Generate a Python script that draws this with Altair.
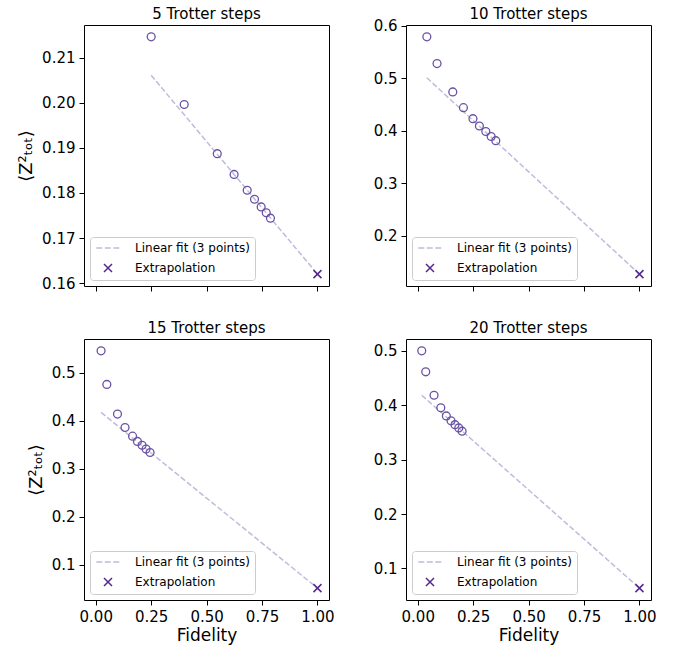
import altair as alt
import pandas as pd

# ---------------- data ----------------
titles = ["5 Trotter steps", "10 Trotter steps", "15 Trotter steps", "20 Trotter steps"]

fid_5 = [0.250, 0.399, 0.548, 0.624, 0.683, 0.716, 0.746, 0.769, 0.788]
z_5 = [0.2146, 0.1996, 0.1887, 0.1841, 0.1806, 0.1786, 0.1769, 0.1756, 0.1744]

fid_10 = [0.041, 0.087, 0.158, 0.206, 0.249, 0.278, 0.307, 0.331, 0.352]
z_10 = [0.579, 0.528, 0.474, 0.444, 0.423, 0.409, 0.3985, 0.389, 0.381]

fid_15 = [0.024, 0.050, 0.098, 0.132, 0.166, 0.188, 0.209, 0.227, 0.245]
z_15 = [0.5458, 0.4758, 0.414, 0.386, 0.368, 0.357, 0.349, 0.341, 0.334]

fid_20 = [0.018, 0.036, 0.0735, 0.104, 0.129, 0.150, 0.168, 0.185, 0.200]
z_20 = [0.4995, 0.461, 0.418, 0.395, 0.380, 0.371, 0.364, 0.358, 0.352]

# linear fit value at the lowest fidelity, and extrapolated value at fidelity 1
fit_start = [0.2061, 0.501, 0.4175, 0.418]
extrap = [0.162, 0.1265, 0.0512, 0.0639]

y_ticks = [
    [0.16, 0.17, 0.18, 0.19, 0.20, 0.21],
    [0.2, 0.3, 0.4, 0.5, 0.6],
    [0.1, 0.2, 0.3, 0.4, 0.5],
    [0.1, 0.2, 0.3, 0.4, 0.5],
]
x_ticks = [0.0, 0.25, 0.5, 0.75, 1.0]
legend_labels = ["Linear fit (3 points)", "Extrapolation"]

# ---------------- styling ----------------
FONT = "DejaVu Sans"
C_PTS = "#6a51a3"
C_FIT = "#bcbddc"
C_EXT = "#54278f"
DASH_PATH = "M-2.34,0L-1.14,0M-0.64,0L0.56,0M1.06,0L2.26,0"
X_PATH = "M-0.8,-0.8L0.8,0.8M-0.8,0.8L0.8,-0.8"
X_DOMAIN = [-0.053, 1.052]
W, H = 245, 261
YLABEL = "⟨Z²ₜₒₜ⟩"
TITLE_DY = [0, 6.5, 0, 0]  # compensates the top tick label that reaches above panel 2

series = [(fid_5, z_5), (fid_10, z_10), (fid_15, z_15), (fid_20, z_20)]


def y_domain(z, e):
    lo, hi = min(min(z), e), max(max(z), e)
    m = 0.05 * (hi - lo)
    return [lo - m, hi + m]


def panel(i):
    fid, z = series[i]
    bottom = i >= 2
    left = i % 2 == 0
    pts = pd.DataFrame({"Fidelity": fid, "Z": z})
    fit = pd.DataFrame({"Fidelity": [fid[0], 1.0], "Z": [fit_start[i], extrap[i]]})
    ext = pd.DataFrame({"Fidelity": [1.0], "Z": [extrap[i]], "kind": ["Extrapolation"]})

    xaxis_kw = dict(values=x_ticks, format=".2f", labels=bottom)
    xaxis_kw["title"] = "Fidelity" if bottom else None
    yfmt = ".2f" if i == 0 else ".1f"
    yaxis_kw = dict(values=y_ticks[i], format=yfmt)
    yaxis_kw["title"] = YLABEL if left else None

    xs = alt.Scale(domain=X_DOMAIN, nice=False, zero=False)
    ys = alt.Scale(domain=y_domain(z, extrap[i]), nice=False, zero=False)
    x = alt.X("Fidelity:Q", scale=xs, axis=alt.Axis(**xaxis_kw))
    y = alt.Y("Z:Q", scale=ys, axis=alt.Axis(**yaxis_kw))

    line = alt.Chart(fit).mark_line(
        color=C_FIT, strokeDash=[5.5, 2.4], strokeWidth=1.5
    ).encode(x=x, y=y)
    circles = alt.Chart(pts).mark_point(
        shape="circle", filled=False, color=C_PTS, size=62, strokeWidth=1.3, opacity=1
    ).encode(x=x, y=y)
    leg = alt.Legend(
        title=None, orient="bottom-left", offset=6, padding=5,
        fillColor="rgba(255,255,255,0.8)", strokeColor="#cccccc", cornerRadius=3,
        symbolSize=100, symbolStrokeWidth=1.5, symbolOffset=7, labelOffset=21,
        rowPadding=7, labelFont=FONT, labelFontSize=12, labelColor="black",
        labelExpr="datum.label + ' '",
    )
    cross = alt.Chart(ext).mark_point(
        filled=False, size=100, strokeWidth=1.5, opacity=1
    ).encode(
        x=x, y=y,
        color=alt.Color("kind:N", scale=alt.Scale(domain=legend_labels, range=[C_FIT, C_EXT]), legend=leg),
        shape=alt.Shape("kind:N", scale=alt.Scale(domain=legend_labels, range=[DASH_PATH, X_PATH]), legend=leg),
    )
    return alt.layer(line, circles, cross).properties(
        width=W, height=H, title=alt.TitleParams(titles[i], dy=TITLE_DY[i])
    )


chart = alt.concat(
    *[panel(i) for i in range(4)],
    columns=2,
    spacing={"row": 53, "column": 77},
    bounds="flush",
).resolve_scale(
    x="independent", y="independent", color="independent", shape="independent"
).resolve_legend(
    color="independent", shape="independent"
).properties(
    padding={"left": 17, "top": 6, "right": 5, "bottom": 2}
).configure_view(
    stroke="black", strokeWidth=1
).configure_axis(
    grid=False, domain=False, tickColor="black", tickSize=5, tickWidth=1,
    labelFont=FONT, labelFontSize=15, labelColor="black", labelPadding=4,
    titleFont=FONT, titleFontSize=18, titleColor="black", titleFontWeight="normal",
    titlePadding=6,
).configure_axisX(
    titlePadding=3, titleFontSize=17
).configure_title(
    font=FONT, fontSize=15, fontWeight="normal", color="black", offset=3, anchor="middle"
)

chart.save("out.html", embed_options={"renderer": "svg", "actions": False})
